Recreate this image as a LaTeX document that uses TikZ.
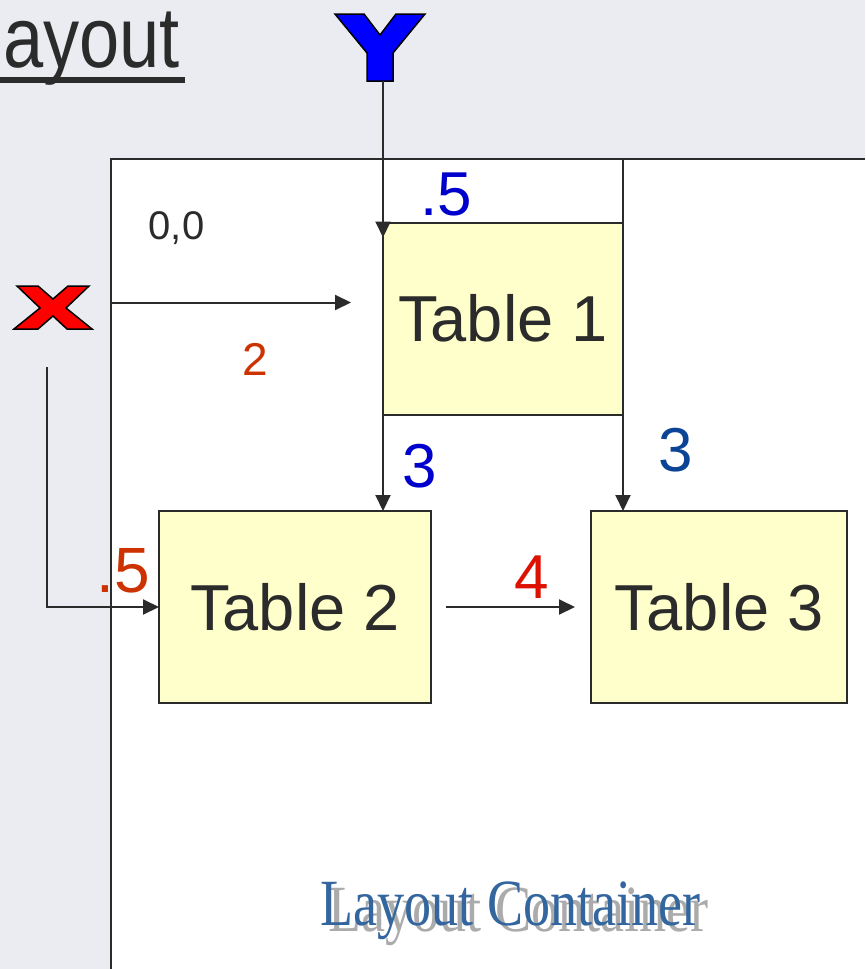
\documentclass[tikz,border=0pt]{standalone}
\usepackage{fontspec}
\setmainfont{Liberation Sans}
\newfontfamily\lcserif{Liberation Serif}
\usetikzlibrary{arrows.meta,calc}
\newcommand\myfs[1]{\fontsize{#1}{#1}\selectfont}
\definecolor{bgc}{HTML}{EBECF1}
\definecolor{linec}{HTML}{2B2B2B}
\definecolor{boxfill}{HTML}{FFFFCC}
\definecolor{lblue}{HTML}{0000CC}
\definecolor{dblue}{HTML}{0B4396}
\definecolor{lorange}{HTML}{CC3300}
\definecolor{lred}{HTML}{DD1100}
\definecolor{lcblue}{HTML}{33669E}
\definecolor{shadowc}{HTML}{ABABAB}
\begin{document}
\begin{tikzpicture}[x=1pt,y=-1pt,
  tbox/.style={draw=linec, fill=boxfill, line width=2pt, inner sep=0pt, outer sep=0pt,
    minimum height=192pt, font=\myfs{65}, text=linec},
  arr/.style={draw=linec, line width=2pt, -{Triangle[length=16pt,width=15pt]}},
  conn/.style={draw=linec, line width=2pt},
  lbl/.style={anchor=base, inner sep=0pt}]
\useasboundingbox (0,0) rectangle (865,969);
\fill[bgc] (0,0) rectangle (865,969);
\fill[white] (111,159) rectangle (865,969);
\draw[conn] (111,969) -- (111,159) -- (865,159);

% title fragment
\node[anchor=base west, inner sep=0pt, text=linec] (title) at (3,67)
  {\scalebox{0.84}[1]{\myfs{86}ayout}};
\fill[linec] (0,77) rectangle (185,83);

% tables
\node[tbox, minimum width=240pt] (t1) at (503,318.5) {Table 1};
\node[tbox, minimum width=272pt] (t2) at (295,607) {Table 2};
\node[tbox, minimum width=256pt] (t3) at (719,607) {Table 3};

% Y glyph
\draw[fill=blue, draw=black, line width=1.5pt, line join=miter]
  (335,14) -- (364,14) -- (380,35) -- (396,14) -- (425,14) -- (393,53)
  -- (393,81) -- (367,81) -- (367,53) -- cycle;
\coordinate (ybot) at (383,81);
\coordinate (yend) at ($(t1.north west)+(0,15)$);
\draw[arr] (ybot) -- (yend);

% X glyph
\draw[fill=red, draw=black, line width=1.5pt, line join=miter]
  (17,286) -- (38,286) -- (53,299) -- (68,286) -- (89,286) -- (66,308)
  -- (92,329) -- (67,329) -- (53,316) -- (38,329) -- (14,329) -- (40,308) -- cycle;
\coordinate (xstart) at (47,367);
\draw[arr] (xstart) |- (t2.west);

% x-axis arrow from container edge
\coordinate (xa) at (111,302.5);
\coordinate (xb) at (351,302.5);
\draw[arr] (xa) -- (xb);

% table 1 right edge up to container top
\coordinate (ctop) at (623,159);
\draw[conn] (t1.north east) -- (ctop);

% table arrows
\draw[arr] (t1.south west) -- (t1.south west |- t2.north);
\draw[arr] (t1.south east) -- (t1.south east |- t3.north);
\draw[arr] ($(t2.east)+(15,0)$) -- ($(t3.west)+(-16,0)$);

% labels
\node[lbl, text=lblue, font=\myfs{62}] (l5top) at (446,215) {.5};
\node[lbl, text=linec, font=\myfs{40}] (l00) at (176.5,239) {0,0};
\node[lbl, text=lorange, font=\myfs{46}] (l2) at (255,375) {2};
\node[lbl, text=lorange, font=\myfs{64}] (l5left) at (123,592) {.5};
\node[lbl, text=lblue, font=\myfs{62}] (l3a) at (420,487) {3};
\node[lbl, text=dblue, font=\myfs{62}] (l3b) at (676,471) {3};
\node[lbl, text=lred, font=\myfs{62}] (l4) at (532,598) {4};

% Layout Container (with its shadow)
\node[anchor=base west, inner sep=0pt, text=shadowc] (lcs) at (328,931)
  {\scalebox{0.82}[1]{\lcserif\myfs{66}Layout Container}};
\node[anchor=base west, inner sep=0pt, text=lcblue] (lc) at (320,925)
  {\scalebox{0.82}[1]{\lcserif\myfs{66}Layout Container}};
\end{tikzpicture}
\end{document}
